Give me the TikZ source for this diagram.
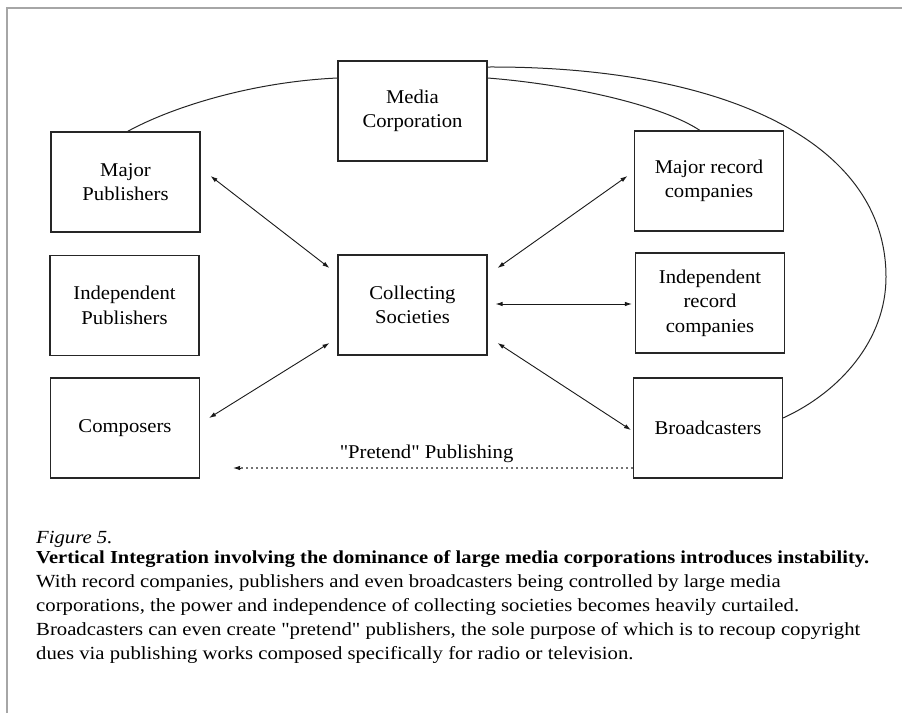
\documentclass[tikz,border=0pt]{standalone}
\usepackage{fontspec}
\setmainfont{Liberation Serif}[Ligatures=TeXOff, FakeStretch=1.06]
\newfontfamily\capfont{Liberation Serif}[Ligatures=TeXOff, FakeStretch=1.12]
\usetikzlibrary{arrows.meta,calc}

\begin{document}
\begin{tikzpicture}[x=1pt,y=1pt,
  box/.style={draw=black!85, line width=1.1pt, minimum width=149pt, minimum height=100pt,
    inner sep=0pt, align=center, font=\fontsize{19.5}{24.5}\selectfont},
  link/.style={black!90, line width=0.9pt, {Latex[length=7pt,width=4.5pt]}-{Latex[length=7pt,width=4.5pt]}},
  tie/.style={black!85, line width=1pt},
  pretend/.style={black!55, line width=2.2pt, dash pattern=on 2.2pt off 2.8pt},
  captxt/.style={anchor=base west, inner sep=0pt, font=\capfont\fontsize{18.5}{23}\selectfont}
]
\useasboundingbox (0,0) rectangle (902,-713);
% page frame
\draw[black!35, line width=2pt] (7,-713) -- (7,-8) -- (902,-8);

% boxes
\node[box] (media) at (412.5,-111) {Media\\Corporation};
\node[box] (mp)    at (125.5,-182) {Major\\Publishers};
\node[box] (ip)    at (124.5,-305.5) {Independent\\Publishers};
\node[box] (comp)  at (125,-428) {Composers};
\node[box] (cs)    at (412.5,-305) {Collecting\\Societies};
\node[box] (mrc)   at (709,-181) {Major record\\companies};
\node[box] (irc)   at (710,-303) {Independent\\record\\companies};
\node[box] (br)    at (708,-428) {Broadcasters};

% ownership ties from the media corporation
\draw[tie] ([xshift=2pt]mp.north) .. controls (170,-108) and (250,-82) .. ([yshift=33pt]media.west);
\draw[tie] ([yshift=33pt]media.east) .. controls (565,-84) and (660,-104) .. ([xshift=-9pt]mrc.north);
\draw[tie] ([yshift=44pt]media.east) .. controls (720,-66) and (886,-140) .. (886,-277)
           .. controls (886,-340) and (840,-392) .. ([yshift=10pt]br.east);

% royalty flows through the collecting societies
\draw[link] ([shift={(10pt,6pt)}]mp.east) -- ([shift={(-8pt,37pt)}]cs.west);
\draw[link] ([shift={(-6.5pt,5pt)}]mrc.west) -- ([shift={(10pt,37pt)}]cs.east);
\draw[link] ([shift={(8pt,1pt)}]cs.east) -- ([shift={(-3pt,-1pt)}]irc.west);
\draw[link] ([shift={(9pt,10pt)}]comp.east) -- ([shift={(-8pt,-38pt)}]cs.west);
\draw[link] ([shift={(10pt,-38pt)}]cs.east) -- ([shift={(-2pt,-2pt)}]br.west);

% pretend publishing
\draw[pretend] ([yshift=-40pt]br.west) -- ([shift={(36pt,-40pt)}]comp.east)
  node[pos=0.52, above=1pt, black, font=\fontsize{19.5}{24}\selectfont] (pp) {"Pretend" Publishing};
\draw[black!90, line width=0.9pt, {Latex[length=7pt,width=4.5pt]}-] ([shift={(33pt,-40pt)}]comp.east) -- ([shift={(40pt,-40pt)}]comp.east);

% caption
\node[captxt, font=\capfont\itshape\fontsize{18.5}{23}\selectfont] (c0) at (36,-543) {Figure 5.};
\node[captxt, font=\capfont\bfseries\fontsize{18.3}{23}\selectfont] (c1) at (36,-563) {Vertical Integration involving the dominance of large media corporations introduces instability.};
\node[captxt] (c2) at (36,-587) {With record companies, publishers and even broadcasters being controlled by large media};
\node[captxt] (c3) at (36,-611) {corporations, the power and independence of collecting societies becomes heavily curtailed.};
\node[captxt] (c4) at (36,-635) {Broadcasters can even create "pretend" publishers, the sole purpose of which is to recoup copyright};
\node[captxt] (c5) at (36,-659) {dues via publishing works composed specifically for radio or television.};
\end{tikzpicture}
\end{document}
